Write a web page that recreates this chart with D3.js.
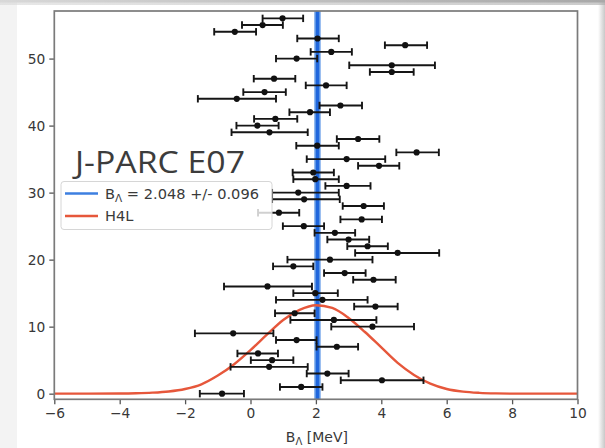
<!DOCTYPE html>
<html><head><meta charset="utf-8">
<script src="https://cdn.jsdelivr.net/npm/d3@7"></script>
<style>
html,body{margin:0;padding:0;background:#fff;}
svg{display:block;}
</style></head>
<body>
<svg id="chart" width="605" height="448"></svg>
<script>
// ---- data ----
const countY = [0,1,2,3,4,5,6,7,8,9,10,11,12,13,14,15,16,17,18,19,20,21,22,23,24,25,26,27,28,29,30,31,32,33,34,35,36,37,38,39,40,41,42,43,44,45,46,47,48,49,50,51,52,53,54,55,56];
const bValue = [-0.87,1.55,4.02,2.35,0.57,0.66,0.23,2.64,1.41,-0.53,3.73,2.55,1.35,3.82,2.20,1.98,0.52,3.76,2.88,1.31,2.43,4.50,3.58,3.00,2.58,1.63,3.40,0.87,3.46,1.64,1.46,2.94,1.98,1.92,3.93,2.94,5.08,2.04,3.29,0.58,0.21,0.76,1.82,2.75,-0.42,0.43,2.31,0.72,4.32,4.32,1.41,2.47,4.73,2.05,-0.48,0.37,0.98];
const bLow   = [-1.55,0.90,2.76,1.72,-0.61,0.01,-0.40,2.02,0.78,-1.70,2.47,1.22,0.75,3.17,0.78,1.31,-0.81,3.14,2.25,0.69,1.13,3.20,2.96,2.35,1.96,0.99,2.75,0.23,2.82,0.66,0.66,2.29,1.31,1.29,3.29,1.72,4.46,1.40,2.64,-0.58,-0.43,0.11,1.19,2.11,-1.61,-0.22,1.69,0.10,3.65,3.02,0.78,1.84,4.11,1.43,-1.11,-0.26,0.37];
const bHigh  = [-0.20,2.20,5.29,3.00,1.75,1.31,0.84,3.29,2.02,0.70,5.00,3.85,1.96,4.50,3.58,2.67,1.88,4.44,3.52,1.92,3.73,5.77,4.20,3.63,3.20,2.25,4.02,1.49,4.08,2.73,2.70,3.67,2.70,2.55,4.55,4.12,5.76,2.70,3.94,1.75,0.86,1.43,2.43,3.41,0.78,1.08,2.94,1.37,4.99,5.64,2.04,3.10,5.40,2.70,0.17,0.99,1.61];

const h4lX = [-6,-5,-4,-3.5,-3,-2.5,-2,-1.5,-1,-0.5,0,0.5,1,1.5,2,2.5,3,3.5,4,4.5,5,5.5,6,6.5,7,7.5,8,9,10];
const h4lY = [0,0,0.02,0.06,0.15,0.33,0.7,1.4,2.7,4.4,6.5,8.8,11.0,12.5,13.2,12.8,11.3,9.2,6.9,4.6,2.8,1.5,0.7,0.3,0.12,0.04,0.01,0,0];

const bLambda = 2.048, bLambdaErr = 0.096;
const xTicks = [-6,-4,-2,0,2,4,6,8,10];
const yTicks = [0,10,20,30,40,50];
const xDomain = [-6,10];
const yDomain = [-0.84,57.1];
const legendLabels = ["B", "Λ", " = 2.048 +/- 0.096", "H4L"];
const titleText = "J-PARC E07";

// ---- drawing ----
const svg = d3.select("#chart");
const L = 54.3, R = 577.5, T = 11, B = 399.3;
const x = d3.scaleLinear().domain(xDomain).range([L, R]);
const y = d3.scaleLinear().domain(yDomain).range([B, T]);

// page decoration (screenshot edges)
const defs = svg.append("defs");
const g1 = defs.append("linearGradient").attr("id","topbar").attr("x1",0).attr("x2",1).attr("y1",0).attr("y2",0);
g1.append("stop").attr("offset","0").attr("stop-color","#d8d8d8");
g1.append("stop").attr("offset","1").attr("stop-color","#a8a8a8");
const g2 = defs.append("linearGradient").attr("id","rightbar").attr("x1",0).attr("x2",1).attr("y1",0).attr("y2",0);
g2.append("stop").attr("offset","0").attr("stop-color","#ffffff");
g2.append("stop").attr("offset","1").attr("stop-color","#c8c8c8");
svg.append("rect").attr("x",0).attr("y",0).attr("width",17).attr("height",448).attr("fill","#f3f3f3");
svg.append("rect").attr("x",598).attr("y",0).attr("width",7).attr("height",448).attr("fill","url(#rightbar)");
svg.append("rect").attr("x",0).attr("y",0).attr("width",605).attr("height",5).attr("fill","url(#topbar)").attr("opacity",0.6);
svg.append("rect").attr("x",0).attr("y",0).attr("width",605).attr("height",2.5).attr("fill","url(#topbar)");

// plot area
svg.append("rect").attr("x",L).attr("y",T).attr("width",R-L).attr("height",B-T).attr("fill","#fff");

const plot = svg.append("g");
// blue band + line
plot.append("rect")
  .attr("x", x(bLambda-bLambdaErr)).attr("y", T)
  .attr("width", x(bLambda+bLambdaErr)-x(bLambda-bLambdaErr)).attr("height", B-T)
  .attr("fill", "#5d97e6");
plot.append("line")
  .attr("x1", x(bLambda)).attr("x2", x(bLambda)).attr("y1", T).attr("y2", B)
  .attr("stroke", "#1f66dc").attr("stroke-width", 3);

// H4L curve
const line = d3.line().x((d,i)=>x(h4lX[i])).y((d,i)=>y(h4lY[i])).curve(d3.curveMonotoneX);
plot.append("path").datum(h4lY).attr("d", line)
  .attr("fill","none").attr("stroke","#e6573b").attr("stroke-width",2.4);

// error bars
const eb = plot.append("g").attr("stroke","#151515").attr("stroke-width",1.9);
countY.forEach((c,i)=>{
  const yy = y(c);
  eb.append("line").attr("x1",x(bLow[i])).attr("x2",x(bHigh[i])).attr("y1",yy).attr("y2",yy);
  eb.append("line").attr("x1",x(bLow[i])).attr("x2",x(bLow[i])).attr("y1",yy-3.7).attr("y2",yy+3.7);
  eb.append("line").attr("x1",x(bHigh[i])).attr("x2",x(bHigh[i])).attr("y1",yy-3.7).attr("y2",yy+3.7);
});
plot.append("g").selectAll("circle").data(countY).join("circle")
  .attr("cx",(d,i)=>x(bValue[i])).attr("cy",d=>y(d)).attr("r",3.1).attr("fill","#111");

// axes
const fmt = d => d < 0 ? "\u2212" + Math.abs(d) : String(d);
const xAxis = svg.append("g").attr("transform",`translate(0,${B})`)
  .call(d3.axisBottom(x).tickValues(xTicks).tickFormat(fmt).tickSize(5).tickPadding(4));
const yAxis = svg.append("g").attr("transform",`translate(${L},0)`)
  .call(d3.axisLeft(y).tickValues(yTicks).tickFormat(fmt).tickSize(5).tickPadding(4));
[xAxis,yAxis].forEach(a=>{
  a.select(".domain").remove();
  a.selectAll(".tick line").attr("stroke","#555").attr("stroke-width",1.3);
  a.selectAll(".tick text").attr("fill","#383838").style("font-family","DejaVu Sans").style("font-size","13.8px");
});

// frame
svg.append("rect").attr("x",L).attr("y",T).attr("width",R-L).attr("height",B-T)
  .attr("fill","none").attr("stroke","#7a7a7a").attr("stroke-width",1.7);

// x label
const xl = svg.append("text").attr("x",(L+R)/2+1).attr("y",442).attr("text-anchor","middle")
  .attr("fill","#383838").style("font-family","DejaVu Sans").style("font-size","14px");
xl.append("tspan").text("B");
xl.append("tspan").attr("dy",3).style("font-size","10px").text("Λ");
xl.append("tspan").attr("dy",-3).text(" [MeV]");

// title text
svg.append("text").attr("x",75).attr("y",173).attr("fill","#3c3c3c")
  .style("font-family","Open Sans").style("font-size","31px")
  .attr("textLength",170).attr("lengthAdjust","spacingAndGlyphs").text(titleText);

// legend
const lg = svg.append("g");
lg.append("rect").attr("x",61).attr("y",181.5).attr("width",211).attr("height",48).attr("rx",3)
  .attr("fill","#fff").attr("fill-opacity",0.8).attr("stroke","#d6d6d6").attr("stroke-width",1);
lg.append("line").attr("x1",65).attr("x2",98).attr("y1",193.5).attr("y2",193.5).attr("stroke","#3d7fe0").attr("stroke-width",2.4);
lg.append("line").attr("x1",65).attr("x2",98).attr("y1",216).attr("y2",216).attr("stroke","#e6573b").attr("stroke-width",2.4);
const t1 = lg.append("text").attr("x",105).attr("y",198.5).attr("fill","#3a3a3a")
  .style("font-family","DejaVu Sans").style("font-size","14.6px");
t1.append("tspan").text(legendLabels[0]);
t1.append("tspan").attr("dy",3).style("font-size","10.5px").text(legendLabels[1]);
t1.append("tspan").attr("dy",-3).text(legendLabels[2]);
lg.append("text").attr("x",105).attr("y",221).attr("fill","#3a3a3a")
  .style("font-family","DejaVu Sans").style("font-size","14.6px").text(legendLabels[3]);
</script>
</body></html>
